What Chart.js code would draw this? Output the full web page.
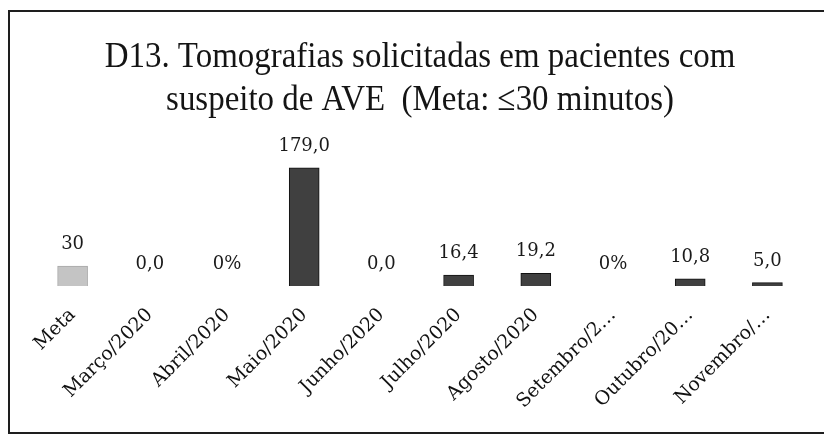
<!DOCTYPE html>
<html>
<head>
<meta charset="utf-8">
<script src="https://cdn.jsdelivr.net/npm/chart.js@4/dist/chart.umd.min.js"></script>
<style>
  body { margin: 0; background: #fff; }
  #wrap { position: relative; width: 824px; height: 436px; overflow: hidden; }
  #frame {
    position: absolute; left: 8px; top: 10px; width: 822px; height: 424px;
    border: 2px solid #1e1e1e; box-sizing: border-box; pointer-events: none;
  }
</style>
</head>
<body>
<div id="wrap">
  <canvas id="chart" width="824" height="436"></canvas>
  <div id="frame"></div>
</div>
<script>
// data
const categories = ['Meta', 'Março/2020', 'Abril/2020', 'Maio/2020', 'Junho/2020', 'Julho/2020',
  'Agosto/2020', 'Setembro/2…', 'Outubro/20…', 'Novembro/…'];
const minutes = [30, 0, 0, 179, 0, 16.4, 19.2, 0, 10.8, 5.0];
const valueLabels = ['30', '0,0', '0%', '179,0', '0,0', '16,4', '19,2', '0%', '10,8', '5,0'];
const titleLines = ['D13. Tomografias solicitadas em pacientes com', 'suspeito de AVE  (Meta: ≤30 minutos)'];

const serif = "'DejaVu Serif', 'Liberation Serif', serif";

// title drawn slightly condensed like the scanned one
const condensedTitle = {
  id: 'condensedTitle',
  afterDraw(chart) {
    const ctx = chart.ctx;
    ctx.save();
    ctx.fillStyle = '#141414';
    ctx.font = "36px 'Liberation Serif', serif";
    ctx.textAlign = 'center';
    ctx.textBaseline = 'alphabetic';
    const ys = [67, 110];
    titleLines.forEach((line, i) => {
      const w = ctx.measureText(line).width;
      ctx.fillText(line, 420, ys[i], w * 0.915);
    });
    ctx.restore();
  }
};

const barValues = {
  id: 'barValues',
  afterDatasetsDraw(chart) {
    const ctx = chart.ctx;
    const meta = chart.getDatasetMeta(0);
    ctx.save();
    ctx.fillStyle = '#1a1a1a';
    ctx.font = '18px ' + serif;
    ctx.textAlign = 'center';
    ctx.textBaseline = 'alphabetic';
    meta.data.forEach((bar, i) => {
      ctx.fillText(valueLabels[i], bar.x, bar.y - 17);
    });
    ctx.restore();
  }
};

new Chart(document.getElementById('chart'), {
  type: 'bar',
  data: {
    labels: categories,
    datasets: [{
      data: minutes,
      backgroundColor: minutes.map((v, i) => i === 0 ? '#c4c4c4' : '#404040'),
      borderColor: minutes.map((v, i) => i === 0 ? '#a8a8a8' : '#111'),
      borderWidth: 1,
      barThickness: 30
    }]
  },
  options: {
    responsive: false,
    animation: false,
    layout: { padding: { left: 34, right: 18, top: 140, bottom: 20 } },
    plugins: {
      legend: { display: false },
      title: { display: false },
      tooltip: { enabled: false }
    },
    scales: {
      x: {
        grid: { display: false },
        border: { display: false },
        ticks: {
          color: '#111',
          font: { family: serif, size: 19 },
          maxRotation: 45,
          minRotation: 45,
          autoSkip: false,
          padding: 10
        },
        afterFit(scale) { scale.height = 130; }
      },
      y: {
        display: false,
        min: 0,
        max: 221
      }
    }
  },
  plugins: [condensedTitle, barValues]
});
</script>
</body>
</html>
